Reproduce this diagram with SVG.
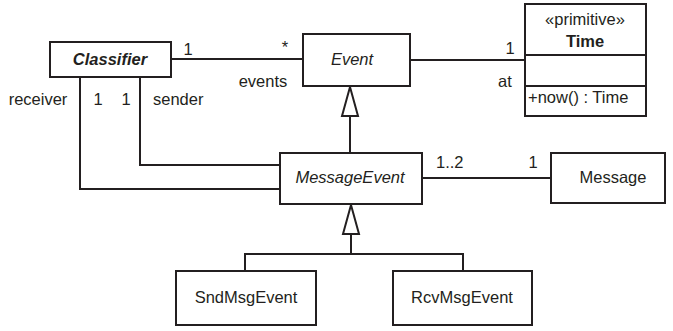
<svg xmlns="http://www.w3.org/2000/svg" width="673" height="331" viewBox="0 0 673 331">
  <style>
    text { font-family: "Liberation Sans", Arial, sans-serif; font-size: 16.5px; fill: #231f20; }
    .box { fill: #fff; stroke: #231f20; stroke-width: 2; }
    .line { fill: none; stroke: #231f20; stroke-width: 2; }
    .tri { fill: #fff; stroke: #231f20; stroke-width: 2; stroke-linejoin: miter; }
    .c { text-anchor: middle; }
    .it { font-style: italic; }
    .b { font-weight: bold; }
  </style>

  <g id="connectors">
    <!-- Classifier – Event association -->
    <line class="line" x1="171" y1="59" x2="303" y2="59"/>
    <!-- Event – Time association -->
    <line class="line" x1="410" y1="60" x2="525" y2="60"/>
    <!-- sender / receiver associations -->
    <polyline class="line" points="140,77 140,165 280,165"/>
    <polyline class="line" points="80,77 80,189 280,189"/>
    <!-- MessageEvent – Message association -->
    <line class="line" x1="422" y1="178" x2="551" y2="178"/>
    <!-- MessageEvent generalizes to Event -->
    <line class="line" x1="350" y1="116" x2="350" y2="153"/>
    <polygon class="tri" points="350,87 342,116 358,116"/>
    <!-- Snd/Rcv generalize to MessageEvent -->
    <polyline class="line" points="245,271 245,254 463,254 463,271"/>
    <line class="line" x1="351" y1="234" x2="351" y2="254"/>
    <polygon class="tri" points="351,205 343,234 359,234"/>

    <!-- multiplicities and role names -->
    <text x="188" y="55" class="c">1</text>
    <text x="285" y="53" class="c">*</text>
    <text x="263" y="87" class="c">events</text>
    <text x="510" y="54" class="c">1</text>
    <text x="505" y="87" class="c">at</text>
    <text x="38" y="105" class="c">receiver</text>
    <text x="98" y="105" class="c">1</text>
    <text x="126" y="105" class="c">1</text>
    <text x="153" y="105">sender</text>
    <text x="436" y="168">1..2</text>
    <text x="533" y="168" class="c">1</text>
  </g>

  <g id="classifier">
    <rect class="box" x="50" y="42" width="121" height="35"/>
    <text x="110" y="65" class="c it b">Classifier</text>
  </g>

  <g id="event">
    <rect class="box" x="303" y="34" width="107" height="52"/>
    <text x="352" y="65" class="c it">Event</text>
  </g>

  <g id="time">
    <rect class="box" x="525" y="4" width="121" height="112"/>
    <line class="line" x1="525" y1="55" x2="646" y2="55"/>
    <line class="line" x1="525" y1="86" x2="646" y2="86"/>
    <text x="585" y="25" class="c">«primitive»</text>
    <text x="585" y="47" class="c b">Time</text>
    <text x="528" y="103">+now() : Time</text>
  </g>

  <g id="messageEvent">
    <rect class="box" x="280" y="153" width="142" height="51"/>
    <text x="350" y="183" class="c it">MessageEvent</text>
  </g>

  <g id="message">
    <rect class="box" x="551" y="153" width="114" height="50"/>
    <text x="613" y="183" class="c">Message</text>
  </g>

  <g id="sndMsgEvent">
    <rect class="box" x="176" y="271" width="140" height="54"/>
    <text x="246" y="303" class="c">SndMsgEvent</text>
  </g>

  <g id="rcvMsgEvent">
    <rect class="box" x="393" y="271" width="139" height="54"/>
    <text x="462" y="303" class="c">RcvMsgEvent</text>
  </g>
</svg>
